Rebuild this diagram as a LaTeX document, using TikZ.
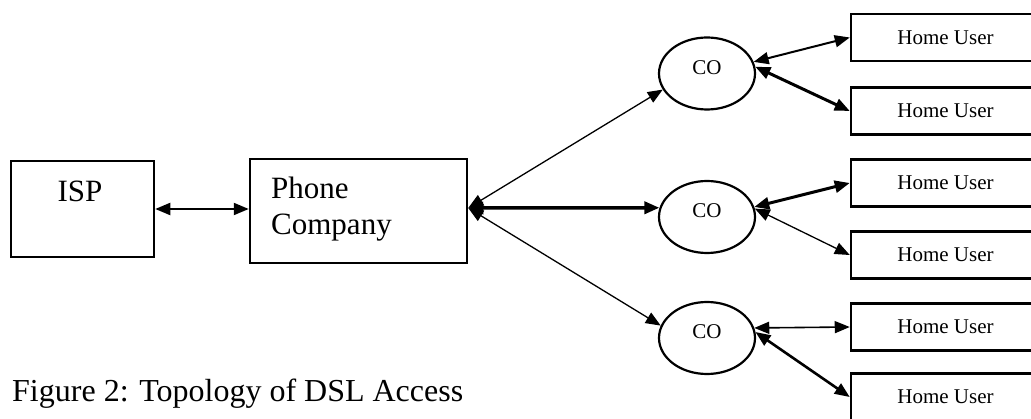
\documentclass[tikz,border=0pt]{standalone}
\usepackage{fontspec}
\setmainfont{Liberation Serif}
\usetikzlibrary{arrows.meta,shapes.geometric,calc}
\begin{document}
\begin{tikzpicture}[x=1pt,y=-1pt,
  >={Triangle[length=15pt,width=12pt]},
  box/.style={draw, line width=2.5pt, inner sep=0pt},
  lg/.style={font=\fontsize{31}{36}\selectfont, inner sep=0pt},
  sm/.style={font=\fontsize{21}{25}\selectfont},
  captxt/.style={font=\fontsize{32}{38}\selectfont, inner sep=0pt},
  ell/.style={draw, ellipse, line width=2.2pt, minimum width=96pt, minimum height=72pt, inner sep=0pt},
  hub/.style={box, sm, minimum width=189pt, minimum height=47pt},
  link/.style={<->, line width=#1}]
\useasboundingbox (0,0) rectangle (1031,419);
\fill[white] (0,0) rectangle (1031,419);
\clip (0,0) rectangle (1031,419);

% left boxes
\node[box, minimum width=143pt, minimum height=96pt] (isp) at (82.5,209) {};
\node[lg, anchor=base] (isplabel) at (80,202) {ISP};
\node[box, minimum width=217pt, minimum height=104pt] (pc) at (358.5,211) {};
\node[lg, anchor=base west] (pc1) at (271,199) {Phone};
\node[lg, anchor=base west] (pc2) at (271,235) {Company};
\coordinate (port) at ($(pc.east)+(0,-3)$);

% central offices
\node[ell] (co1) at (707,73.5) {};
\node[ell] (co2) at (707,217) {};
\node[ell] (co3) at (707,338) {};
\node[sm, inner sep=0pt, anchor=base] (co1t) at (707,75) {CO};
\node[sm, inner sep=0pt, anchor=base] (co2t) at (707,218) {CO};
\node[sm, inner sep=0pt, anchor=base] (co3t) at (707,339) {CO};

% home users
\node[hub] (hu1) at (945.5,37.5) {Home User};
\node[hub] (hu2) at (945.5,111) {Home User};
\node[hub] (hu3) at (945.5,183) {Home User};
\node[hub] (hu4) at (945.5,255) {Home User};
\node[hub] (hu5) at (945.5,327) {Home User};
\node[hub] (hu6) at (945.5,397) {Home User};

% caption
\node[captxt, anchor=base west] (caption) at (12,402) {Figure 2: Topology of DSL Access};

% connectors
\draw[link=2pt] (isp.east) -- (pc.west |- isp.east);
\draw[link=1.3pt] (port) -- (co1.200);
\draw[link=3.5pt] (port) -- (co2.169);
\draw[link=1.3pt] (port) -- (co3.165);
\draw[link=2pt] (co1.14) -- (hu1.west);
\draw[link=3pt] (co1.8) -- (hu2.west);
\draw[link=3pt] (co2.12) -- (hu3.west);
\draw[link=1.3pt] (co2.10) -- (hu4.west);
\draw[link=1.6pt] (co3.12) -- (hu5.west);
\draw[link=2.6pt] (co3.7) -- (hu6.west);
\end{tikzpicture}
\end{document}
